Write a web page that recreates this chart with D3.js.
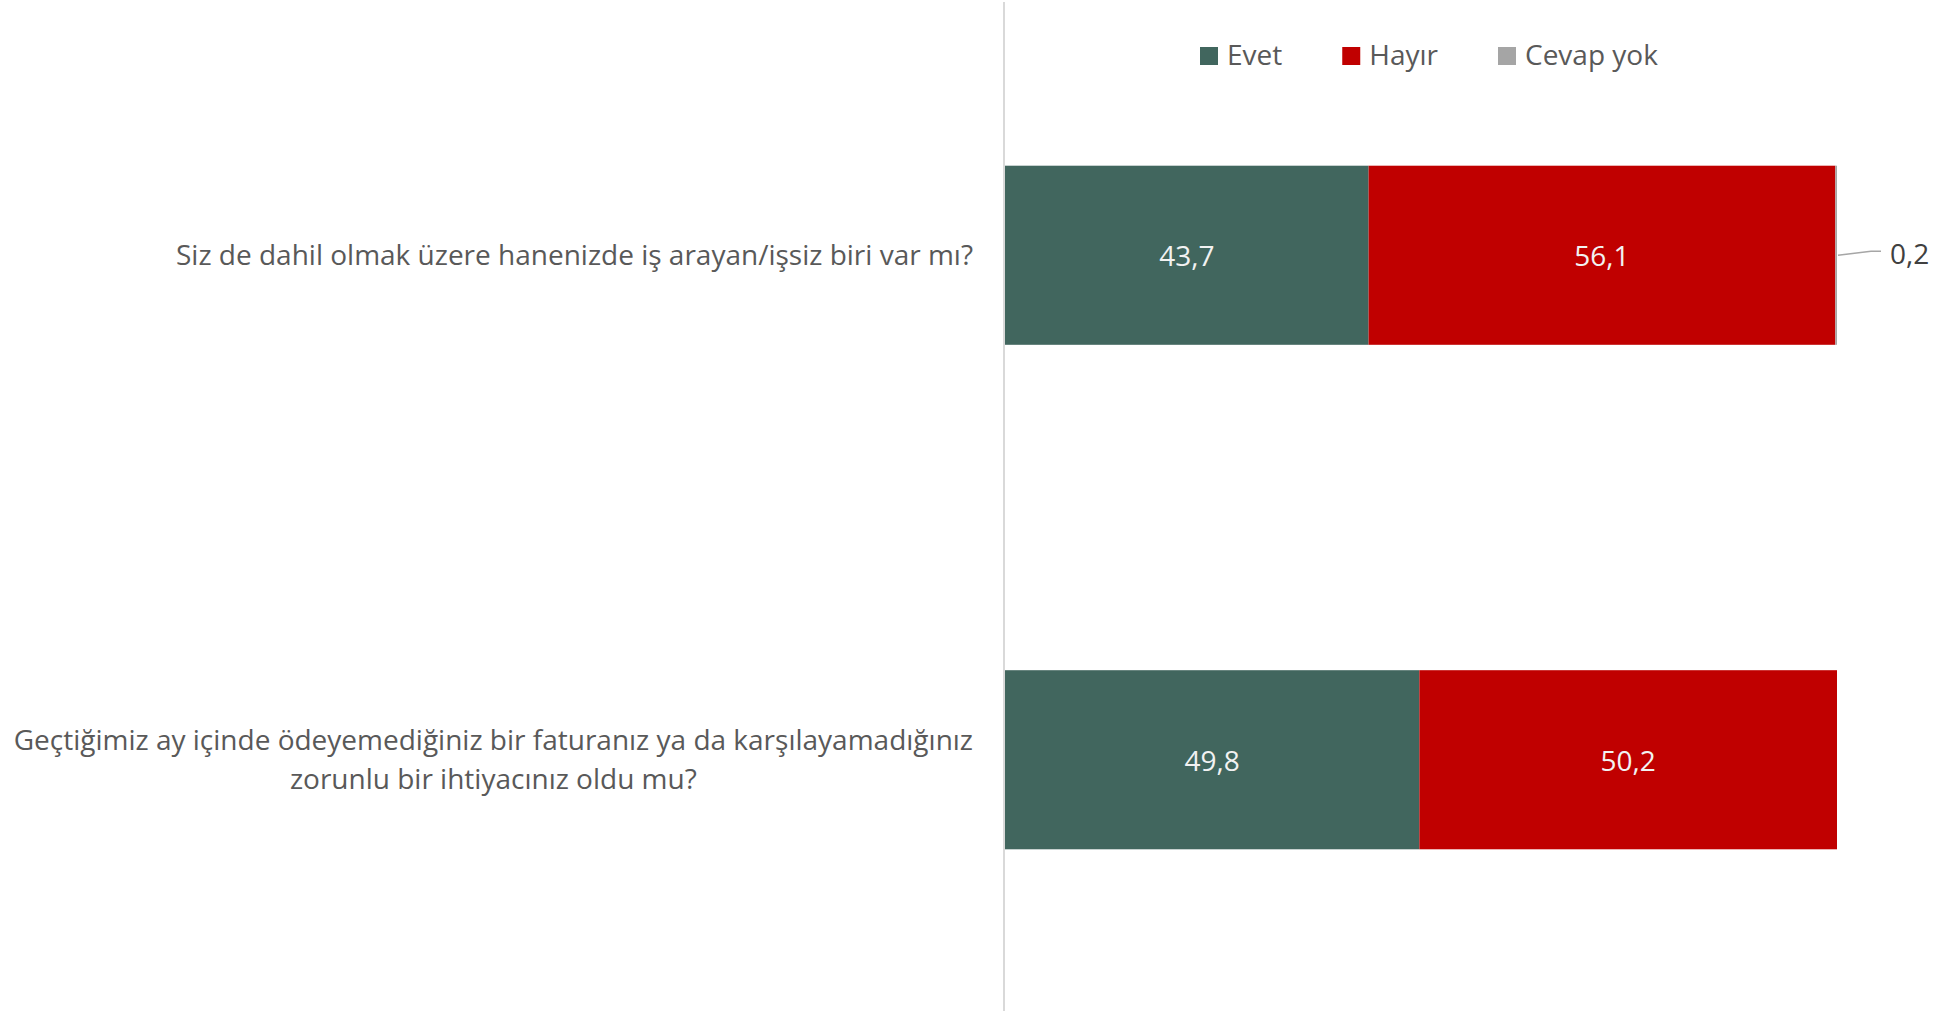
<!DOCTYPE html>
<html>
<head>
<meta charset="utf-8">
<script src="https://cdn.jsdelivr.net/npm/d3@7"></script>
<style>
  html, body { margin: 0; padding: 0; background: #fff; }
  svg { display: block; font-family: "Open Sans", sans-serif; }
</style>
</head>
<body>
<div id="root"></div>
<script>
// data
var categories = [
    "Siz de dahil olmak üzere hanenizde iş arayan/işsiz biri var mı?",
    "Geçtiğimiz ay içinde ödeyemediğiniz bir faturanız ya da karşılayamadığınız\nzorunlu bir ihtiyacınız oldu mu?"
];
var seriesNames = ["Evet", "Hayır", "Cevap yok"];
var evet = [43.7, 49.8];
var hayir = [56.1, 50.2];
var cevapYok = [0.2, 0];
var colors = ["#41665E", "#C00000", "#A5A5A5"];

var width = 1944, height = 1011;

var svg = d3.select("#root").append("svg")
    .attr("width", width)
    .attr("height", height);

var rows = categories.map(function(c, i) {
    return { cat: c, values: [evet[i], hayir[i], cevapYok[i]] };
});

var x = d3.scaleLinear().domain([0, 100]).range([1005, 1837]);
var y = d3.scaleBand().domain(categories).range([3, 1012])
    .paddingInner(0.645).paddingOuter(0.3225);

// vertical category axis line
svg.append("line")
    .attr("x1", 1004).attr("x2", 1004)
    .attr("y1", 2).attr("y2", height)
    .attr("stroke", "#d9d9d9")
    .attr("stroke-width", 2);

// stacked segments
var segs = [];
rows.forEach(function(r) {
    var acc = 0;
    r.values.forEach(function(v, k) {
        segs.push({ cat: r.cat, k: k, v: v, x0: acc, x1: acc + v });
        acc += v;
    });
});

svg.append("g").selectAll("rect")
    .data(segs.filter(function(d) { return d.v > 0; }))
    .enter().append("rect")
    .attr("x", function(d) { return x(d.x0); })
    .attr("y", function(d) { return y(d.cat); })
    .attr("width", function(d) { return x(d.x1) - x(d.x0); })
    .attr("height", y.bandwidth())
    .attr("fill", function(d) { return colors[d.k]; });

var fmt = function(v) { return d3.format(".1f")(v).replace(".", ","); };

// labels inside big segments
svg.append("g").selectAll("text")
    .data(segs.filter(function(d) { return d.v >= 5; }))
    .enter().append("text")
    .attr("x", function(d) { return (x(d.x0) + x(d.x1)) / 2; })
    .attr("y", function(d) { return y(d.cat) + y.bandwidth() / 2 + 1; })
    .attr("dy", "0.35em")
    .attr("text-anchor", "middle")
    .attr("fill", "#f2f2f2")
    .style("font-size", "28px")
    .text(function(d) { return fmt(d.v); });

// small segment label with leader line
var small = segs.filter(function(d) { return d.v > 0 && d.v < 5; });
small.forEach(function(d) {
    var cx = x(d.x1) + 1, cy = y(d.cat) + y.bandwidth() / 2;
    svg.append("path")
        .attr("d", "M" + cx + "," + cy + "L" + (cx + 33) + "," + (cy - 4) + "H" + (cx + 43))
        .attr("fill", "none")
        .attr("stroke", "#a6a6a6")
        .attr("stroke-width", 1.5);
    svg.append("text")
        .attr("x", cx + 52)
        .attr("y", cy - 1)
        .attr("dy", "0.35em")
        .attr("fill", "#404040")
        .style("font-size", "28px")
        .text(fmt(d.v));
});

// category labels
var catG = svg.append("g");
categories.forEach(function(c) {
    var lines = c.split("\n");
    var cy = y(c) + y.bandwidth() / 2;
    var lh = 39;
    var t = catG.append("text")
        .attr("fill", "#595959")
        .style("font-size", "28px")
        .attr("text-anchor", lines.length > 1 ? "middle" : "end");
    lines.forEach(function(l, i) {
        t.append("tspan")
            .attr("x", 973)
            .attr("y", cy + (i - (lines.length - 1) / 2) * lh)
            .attr("dy", "0.35em")
            .text(l);
    });
    if (lines.length > 1) {
        // centre multi-line block, right edge at 973
        var w = t.node().getBBox().width;
        t.selectAll("tspan").attr("x", 973 - w / 2);
    }
});

// legend
var leg = svg.append("g");
var lx = 1200;
seriesNames.forEach(function(n, i) {
    leg.append("rect")
        .attr("x", lx).attr("y", 47)
        .attr("width", 18).attr("height", 18)
        .attr("fill", colors[i]);
    var t = leg.append("text")
        .attr("x", lx + 27).attr("y", 65)
        .attr("fill", "#595959")
        .style("font-size", "28px")
        .text(n);
    lx += 27 + t.node().getComputedTextLength() + 60;
});
</script>
</body>
</html>
